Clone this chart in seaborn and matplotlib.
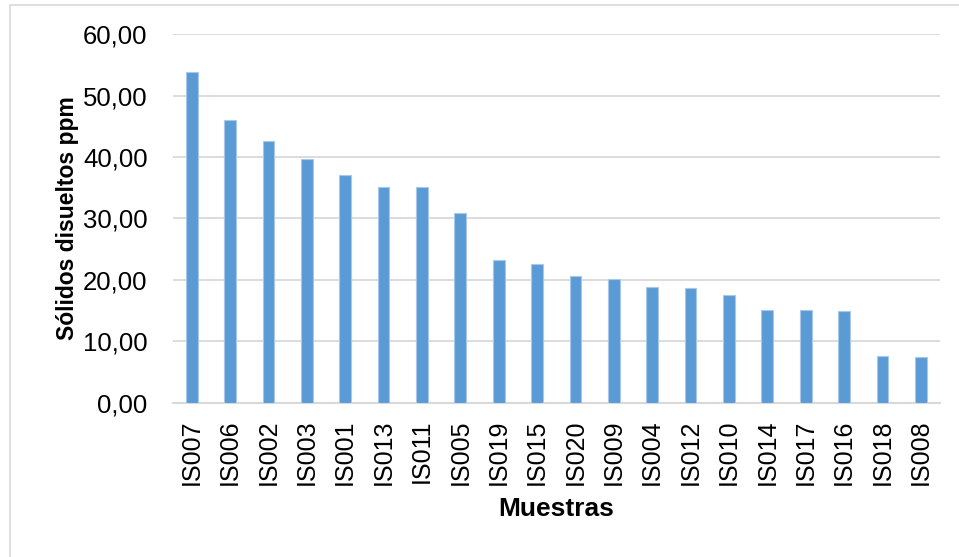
import matplotlib
matplotlib.use("Agg")
import matplotlib.pyplot as plt
import matplotlib.ticker as mticker
from matplotlib import font_manager
from matplotlib.patches import Rectangle
import seaborn as sns
import pandas as pd

# Muestras ordenadas de mayor a menor contenido de sólidos disueltos
muestras = ["IS007", "IS006", "IS002", "IS003", "IS001", "IS013", "IS011",
            "IS005", "IS019", "IS015", "IS020", "IS009", "IS004", "IS012",
            "IS010", "IS014", "IS017", "IS016", "IS018", "IS008"]
solidos_ppm = [53.9, 46.0, 42.6, 39.6, 37.0, 35.2, 35.1,
               30.9, 23.3, 22.6, 20.7, 20.1, 18.9, 18.6,
               17.6, 15.1, 15.1, 14.9, 7.6, 7.4]
y_ticks = [0, 10, 20, 30, 40, 50, 60]

df = pd.DataFrame({"Muestras": muestras, "Solidos": solidos_ppm})

sns.set_theme(style="white")
plt.rcParams["font.family"] = ["Liberation Sans", "DejaVu Sans"]

# Título del eje Y en letra estrecha si está disponible
installed = {f.name for f in font_manager.fontManager.ttflist}
if "Liberation Sans Narrow" in installed:
    ylabel_family, ylabel_size = ["Liberation Sans Narrow", "DejaVu Sans"], 19.5
else:
    ylabel_family, ylabel_size = ["Liberation Sans", "DejaVu Sans"], 16.5

W, H = 959, 557
fig = plt.figure(figsize=(W / 100, H / 100), dpi=100)
ax = fig.add_axes([172.5 / W, 1 - 402.7 / H, 767.5 / W, 368.5 / H])

sns.barplot(data=df, x="Muestras", y="Solidos", color="#5B9BD5",
            saturation=1, width=0.305, edgecolor="#A8C8EA", linewidth=0.8,
            ax=ax, zorder=3)

ax.set_ylim(0, 60)
ax.set_xlim(-0.5, len(muestras) - 0.5)
ax.set_yticks(y_ticks)
ax.yaxis.set_major_formatter(
    mticker.FuncFormatter(lambda v, _: f"{v:.2f}".replace(".", ",")))
ax.grid(axis="y", color="#D9D9D9", linewidth=1.3, zorder=0)
ax.grid(axis="x", visible=False)
ax.set_axisbelow(True)

for side in ("left", "right", "top"):
    ax.spines[side].set_visible(False)
ax.spines["bottom"].set_color("#D9D9D9")
ax.spines["bottom"].set_linewidth(1.5)

ax.tick_params(axis="y", length=0, pad=18, labelsize=18.5, labelcolor="black")
ax.tick_params(axis="x", length=0, pad=12, labelsize=18, labelcolor="black",
               labelrotation=90)

ax.set_xlabel("Muestras", fontsize=19, fontweight="bold", color="black")
ax.set_ylabel("Sólidos disueltos ppm", fontsize=ylabel_size,
              fontweight="bold", color="black", family=ylabel_family)
ax.xaxis.set_label_coords(0.5, -0.255)
ax.yaxis.set_label_coords(-0.122, 0.5)

# Marco del área del gráfico
fig.patches.append(Rectangle((10 / W, -0.01), 1.0, 1 - 5 / H + 0.01,
                             transform=fig.transFigure, fill=False,
                             edgecolor="#D9D9D9", linewidth=1.2))

fig.savefig("out.png", dpi=100)
